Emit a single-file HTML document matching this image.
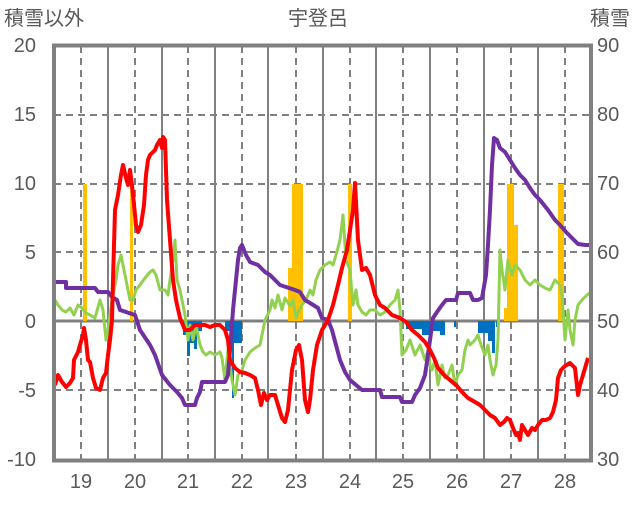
<!DOCTYPE html>
<html><head><meta charset="utf-8"><style>
body{margin:0;background:#fff}
svg text{font-family:"Liberation Sans","Noto Sans CJK JP",sans-serif;fill:#595959;font-size:20px}
</style></head><body>
<svg width="636" height="501" xmlns="http://www.w3.org/2000/svg">
<rect width="636" height="501" fill="#fff"/>
<g stroke="#808080" stroke-width="2">
<g stroke-dasharray="7,5">
<line x1="54" y1="115" x2="591" y2="115"/><line x1="54" y1="184" x2="591" y2="184"/>
<line x1="54" y1="252" x2="591" y2="252"/><line x1="54" y1="390" x2="591" y2="390"/>
<line x1="81" y1="46" x2="81" y2="460"/><line x1="135" y1="46" x2="135" y2="460"/>
<line x1="188" y1="46" x2="188" y2="460"/><line x1="242" y1="46" x2="242" y2="460"/>
<line x1="296" y1="46" x2="296" y2="460"/><line x1="350" y1="46" x2="350" y2="460"/>
<line x1="403" y1="46" x2="403" y2="460"/><line x1="457" y1="46" x2="457" y2="460"/>
<line x1="511" y1="46" x2="511" y2="460"/><line x1="565" y1="46" x2="565" y2="460"/>
</g>
<line x1="108" y1="46" x2="108" y2="460"/><line x1="162" y1="46" x2="162" y2="460"/>
<line x1="215" y1="46" x2="215" y2="460"/><line x1="268" y1="46" x2="268" y2="460"/>
<line x1="323" y1="46" x2="323" y2="460"/><line x1="376" y1="46" x2="376" y2="460"/>
<line x1="430" y1="46" x2="430" y2="460"/><line x1="484" y1="46" x2="484" y2="460"/>
<line x1="538" y1="46" x2="538" y2="460"/>
<line x1="54" y1="321" x2="591" y2="321" stroke-width="3"/>
</g>
<g fill="#ffc000">
<rect x="83" y="184" width="4" height="137"/><rect x="130" y="184" width="3" height="137"/>
<rect x="288" y="268" width="4" height="53"/><rect x="292" y="184" width="11" height="137"/>
<rect x="348" y="184" width="4" height="137"/><rect x="507" y="184" width="7" height="137"/>
<rect x="514" y="225" width="4" height="96"/><rect x="504" y="308" width="3" height="13"/><rect x="558" y="184" width="6" height="137"/>
</g>
<g fill="#0070c0">
<rect x="183" y="321" width="4" height="14"/><rect x="187" y="321" width="3" height="35"/><rect x="190" y="321" width="4" height="22"/><rect x="194" y="321" width="3" height="28"/><rect x="197" y="321" width="5" height="10"/>
<rect x="225" y="321" width="6" height="10"/><rect x="232" y="321" width="2" height="77"/><rect x="234" y="321" width="8" height="22"/>
<rect x="406" y="321" width="16" height="8"/><rect x="422" y="321" width="10" height="14"/><rect x="432" y="321" width="8" height="10"/><rect x="440" y="321" width="5" height="14"/>
<rect x="454" y="321" width="2" height="6"/>
<rect x="478" y="321" width="10" height="12"/><rect x="488" y="321" width="4" height="20"/><rect x="492" y="321" width="3" height="32"/><rect x="496" y="321" width="3" height="6"/>
</g>
<g fill="none" stroke-linejoin="round">
<polyline stroke="#92d050" stroke-width="3" points="55,300 58,305 62,310 66,312 70,308 74,315 78,305 82,308 86,313 90,315 95,318 100,300 103,310 106,340 108,330 112,300 116,280 118,265 121,255 124,270 127,285 130,300 133,300 136,290 140,285 145,278 150,272 153,270 156,275 160,290 165,290 168,295 170,280 173,260 175,240 177,280 180,290 182,300 185,315 188,340 190,325 193,340 196,325 200,345 203,352 206,355 210,352 215,355 220,352 222,358 225,380 228,350 232,380 235,395 238,375 242,370 245,360 250,352 255,348 260,345 262,335 265,320 270,310 272,300 275,308 278,295 282,310 285,298 290,306 293,300 296,318 299,310 302,305 306,300 310,290 313,295 316,280 320,270 325,265 330,262 333,265 336,255 340,240 343,215 346,260 350,270 353,305 356,290 358,305 362,312 366,315 370,310 375,310 380,315 385,312 390,305 395,300 398,290 400,310 402,355 406,350 410,340 415,355 420,345 425,360 428,350 430,365 432,370 435,360 438,385 442,365 445,378 448,375 452,365 455,385 458,375 462,370 465,350 468,340 470,345 475,340 478,335 481,345 485,355 488,345 490,360 493,375 496,365 498,340 500,250 502,270 505,290 508,260 510,270 512,275 515,265 520,270 525,280 530,285 535,280 540,285 545,288 550,290 555,280 560,285 562,295 565,340 568,310 570,330 573,345 575,320 578,305 582,300 587,295 591,292"/>
<polyline stroke="#7030a0" stroke-width="4" points="55,282 66,282 66,288 95,288 98,292 108,292 112,297 117,300 120,310 135,315 140,330 150,345 155,355 162,375 170,385 177,392 182,398 185,405 195,405 197,398 200,392 202,382 208,382 225,382 228,375 230,350 233,310 236,280 238,260 240,248 242,245 246,255 250,262 258,265 265,272 270,275 280,285 295,290 300,292 305,300 310,303 318,308 322,318 328,320 332,330 336,345 340,360 345,372 350,380 362,390 380,390 382,397 400,397 402,402 412,402 415,395 420,388 425,375 428,355 430,340 433,318 437,312 442,305 446,300 456,300 458,293 470,293 473,300 478,300 482,298 486,275 488,245 490,210 492,165 494,138 497,140 500,148 505,152 510,160 515,168 520,175 525,180 530,188 535,195 540,200 548,210 555,220 560,225 566,232 572,238 578,244 585,245 591,245"/>
<polyline stroke="#ff0000" stroke-width="4" points="55,385 58,375 62,382 66,387 70,383 73,378 74,360 78,352 80,345 83,335 84,328 86,340 88,360 90,362 93,378 96,388 100,390 103,378 106,373 108,355 110,340 112,320 113,280 115,210 118,195 121,175 123,165 126,178 128,185 130,170 132,185 134,205 136,225 138,232 141,225 144,205 146,175 148,160 150,155 153,152 155,150 157,145 160,140 162,148 163,137 165,140 167,200 170,240 173,280 176,300 180,318 185,330 190,330 195,325 205,325 210,327 215,325 220,325 225,330 228,340 230,360 235,368 240,372 245,373 250,375 255,378 258,390 261,405 264,393 267,400 270,395 275,395 278,405 282,418 285,422 288,410 292,370 296,350 299,345 302,360 305,400 308,412 310,400 313,370 317,345 322,330 328,320 333,305 338,285 342,268 347,250 350,230 353,210 355,183 358,240 362,270 366,268 370,275 375,295 380,305 385,308 392,315 400,318 406,322 412,330 418,335 425,342 430,350 434,358 438,368 445,376 450,380 457,386 462,392 468,398 475,402 480,405 485,410 490,415 495,418 500,425 504,422 507,418 510,420 513,428 516,435 518,433 520,440 522,425 525,430 528,435 532,428 535,430 538,425 542,420 546,420 550,418 553,412 556,400 558,378 561,370 565,366 570,363 575,368 578,395 580,385 583,375 588,358"/>
</g>
<rect x="54" y="45.5" width="537" height="415" fill="none" stroke="#808080" stroke-width="4"/>
<g text-anchor="end">
<text x="36" y="52">20</text><text x="36" y="121">15</text><text x="36" y="190">10</text><text x="36" y="259">5</text>
<text x="36" y="328">0</text><text x="36" y="397">-5</text><text x="36" y="466">-10</text>
</g>
<g>
<text x="597" y="52">90</text><text x="597" y="121">80</text><text x="597" y="190">70</text><text x="597" y="259">60</text>
<text x="597" y="328">50</text><text x="597" y="397">40</text><text x="597" y="466">30</text>
</g>
<g text-anchor="middle">
<text x="81" y="488">19</text><text x="135" y="488">20</text><text x="188" y="488">21</text><text x="242" y="488">22</text>
<text x="296" y="488">23</text><text x="350" y="488">24</text><text x="403" y="488">25</text><text x="457" y="488">26</text>
<text x="511" y="488">27</text><text x="565" y="488">28</text>
<text x="318" y="25">宇登呂</text>
</g>
<text x="4" y="25">積雪以外</text>
<text x="590" y="25">積雪</text>
</svg>
</body></html>
